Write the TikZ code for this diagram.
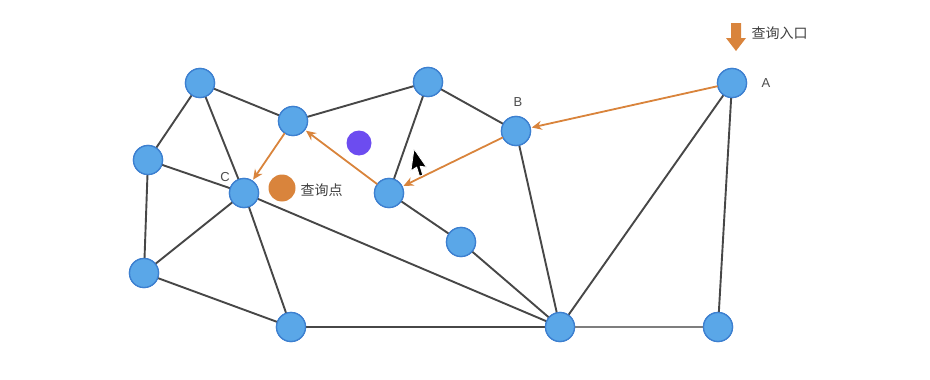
\documentclass[tikz,border=0pt]{standalone}
\usepackage{fontspec}
\setmainfont{Liberation Sans}
\newfontfamily\cjk{Noto Sans CJK SC}
\usetikzlibrary{arrows.meta}
\definecolor{nodeblue}{HTML}{5AA7E8}
\definecolor{nodeedge}{HTML}{3D80D0}
\definecolor{pathorange}{HTML}{D9843C}
\definecolor{dotpurple}{HTML}{6C4CF0}
\definecolor{edgegray}{HTML}{474747}
\begin{document}
\begin{tikzpicture}[x=1pt, y=-1pt, line cap=round, line join=round,
    vtx/.style={circle, fill=nodeblue, draw=nodeedge, line width=1.3pt, minimum size=29pt, inner sep=0pt},
    edge/.style={draw=edgegray, line width=1.9pt},
    hop/.style={draw=pathorange, line width=1.8pt, -{Stealth[length=10pt, width=9pt]}, shorten >=1pt},
    lbl/.style={text=black!70, font=\fontsize{13}{15}\selectfont}]
  \useasboundingbox (0,0) rectangle (930,380);
  % vertices of the graph
  \node[vtx] (v1) at (200,83) {};
  \node[vtx] (v2) at (428,82) {};
  \node[vtx] (v3) at (293,121) {};
  \node[vtx] (v4) at (148,160) {};
  \node[vtx] (c)  at (244,193) {};
  \node[vtx] (v6) at (389,193) {};
  \node[vtx] (b)  at (516,131) {};
  \node[vtx] (a)  at (732,83) {};
  \node[vtx] (v9) at (461,242) {};
  \node[vtx] (v10) at (144,273) {};
  \node[vtx] (v11) at (291,327) {};
  \node[vtx] (v12) at (560,327) {};
  \node[vtx] (v13) at (718,327) {};
  % edges
  \foreach \u/\v in {v1/v3, v3/v2, v1/c, v1/v4, v4/c, v4/v10, v10/c, v10/v11, c/v11,
                     c/v12, v2/v6, v2/b, v6/v9, v9/v12, b/v12, a/v12, a/v13, v11/v12}
    \draw[edge] (\u) -- (\v);
  \draw[edge, draw=edgegray!70] (v12) -- (v13);
  % redraw vertices on top of the edges
  \foreach \n in {v1,v2,v3,v4,c,v6,b,a,v9,v10,v11,v12,v13}
    \path (\n) node[vtx] {};
  % greedy search path
  \draw[hop] (a) -- (b);
  \draw[hop] (b) -- (v6);
  \draw[hop] (v6) -- (v3);
  \draw[hop] (v3) -- (c);
  % labels
  \node[lbl] (la) at (766,83) {A};
  \node[lbl] (lb) at (518,102) {B};
  \node[lbl] (lc) at (225,177) {C};
  % query point and the other point
  \node[circle, fill=dotpurple, minimum size=25pt, inner sep=0pt] (p) at (359,143) {};
  \node[circle, fill=pathorange, minimum size=27pt, inner sep=0pt] (q) at (282,188) {};
  \node[anchor=west, text=black!75, font=\cjk\fontsize{14}{16}\selectfont] (ql) at (297,190) {查询点};
  % entry marker
  \fill[pathorange] (731,23) -- (741,23) -- (741,38) -- (746,38) -- (736,51) -- (726,38) -- (731,38) -- cycle;
  \node[anchor=west, text=black!75, font=\cjk\fontsize{14}{16}\selectfont] (entry) at (748,33) {查询入口};
  % mouse pointer
  \begin{scope}[shift={(414,149)}, scale=1.3, rotate=-8]
    \draw[fill=black, draw=white, line width=0.8pt]
      (0,0) -- (0,17) -- (4,13.5) -- (7,20) -- (9.5,19) -- (6.5,12.5) -- (11.5,12.5) -- cycle;
  \end{scope}
\end{tikzpicture}
\end{document}
